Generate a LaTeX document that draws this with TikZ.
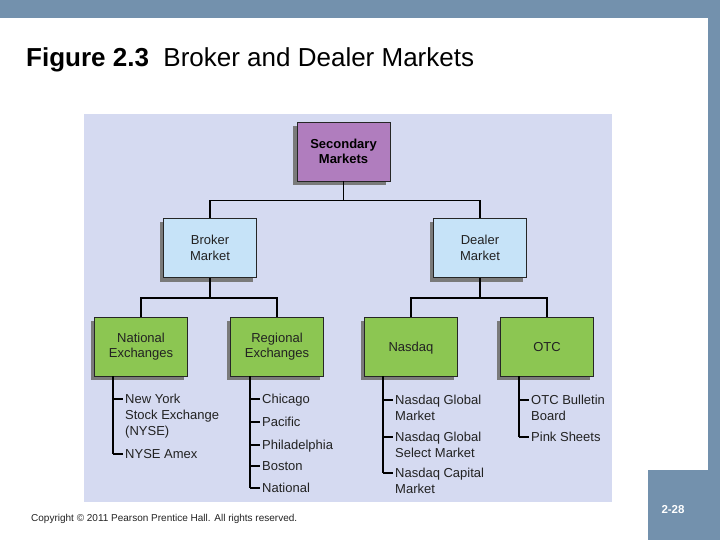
\documentclass[tikz,border=0pt]{standalone}
\usepackage{fontspec}
\setmainfont{Liberation Sans}
\usetikzlibrary{calc,shadows}
\definecolor{bar}{HTML}{7391AD}
\definecolor{panel}{HTML}{D5DAF1}
\definecolor{purp}{HTML}{B07DBE}
\definecolor{lblue}{HTML}{C6E3F8}
\definecolor{gbox}{HTML}{8CC652}
\definecolor{shad}{HTML}{7A7A7A}
\definecolor{txt}{HTML}{222222}
\begin{document}
\begin{tikzpicture}[x=1pt,y=-1pt,
  box/.style={draw=black!85, line width=0.9pt, minimum width=93pt, minimum height=59pt,
    align=center, inner sep=2pt, font=\fontsize{13}{15.5}\selectfont, text=txt,
    drop shadow={shadow xshift=-4pt, shadow yshift=-4pt, fill=shad, opacity=1}},
  onebox/.style={box, text height=9.4pt, text depth=0pt},
  conn/.style={draw=black, line width=1.6pt},
  item/.style={anchor=base west, align=left, inner sep=0pt, text=txt,
    font=\fontsize{13}{16}\selectfont}]
\useasboundingbox (0,0) rectangle (720,540);
% frame
\fill[bar] (0,0) rectangle (720,18);
\fill[bar] (708,0) rectangle (720,540);
\fill[bar] (648,470) rectangle (720,540);
\node[anchor=center, text=white, font=\fontsize{11.5}{13}\selectfont\bfseries] (pg) at (673,510) {2-28};
% title
\node[anchor=base west, inner sep=0pt, font=\fontsize{26}{30}\selectfont] (title) at (26,67)
  {\textbf{Figure 2.3}\ \ Broker and Dealer Markets};
\node[anchor=base west, inner sep=0pt, font=\fontsize{10}{12}\selectfont, text=txt] (copy) at (31,521)
  {Copyright © 2011 Pearson Prentice Hall. All rights reserved.};
% panel
\fill[panel] (84,114) rectangle (612,502);
% boxes
\node[box, fill=purp, font=\fontsize{13}{15.5}\selectfont\bfseries, text=black] (sec) at (343.5,151.5) {Secondary\\Markets};
\node[box, fill=lblue] (bro) at (210,248) {Broker\\Market};
\node[box, fill=lblue] (dea) at (480,248) {Dealer\\Market};
\node[box, fill=gbox] (nat) at (141,346.5) {National\\Exchanges};
\node[box, fill=gbox] (reg) at (277,346.5) {Regional\\Exchanges};
\node[onebox, fill=gbox] (nas) at (411,346.5) {Nasdaq};
\node[onebox, fill=gbox] (otc) at (547,346.5) {OTC};
% tree connectors
\draw[conn] (sec.south) -- ++(0,19) -| (bro.north);
\draw[conn] (sec.south) -- ++(0,19) -| (dea.north);
\draw[conn] (bro.south) -- ++(0,20) -| (nat.north);
\draw[conn] (bro.south) -- ++(0,20) -| (reg.north);
\draw[conn] (dea.south) -- ++(0,20) -| (nas.north);
\draw[conn] (dea.south) -- ++(0,20) -| (otc.north);
% lists: node placed at the baseline of its last line
\node[item] (ny) at (125,435.5) {New York\\Stock Exchange\\(NYSE)};
\node[item] (amex) at (125,458.5) {NYSE Amex};
\node[item] (chi) at (262,403.5) {Chicago};
\node[item] (pac) at (262,426.5) {Pacific};
\node[item] (phi) at (262,449.5) {Philadelphia};
\node[item] (bos) at (262,470.5) {Boston};
\node[item] (natl) at (262,492.5) {National};
\node[item] (ngm) at (395,420.5) {Nasdaq Global\\Market};
\node[item] (ngs) at (395,457.5) {Nasdaq Global\\Select Market};
\node[item] (ncm) at (395,493.5) {Nasdaq Capital\\Market};
\node[item] (bb) at (531,420.5) {OTC Bulletin\\Board};
\node[item] (pink) at (531,441.5) {Pink Sheets};
% ticks at the first line of each item
\foreach \n/\d in {ny/36.5,amex/4.5,chi/4.5,pac/4.5,phi/4.5,bos/4.5,natl/4.5,ngm/20.5,ngs/20.5,ncm/20.5,bb/20.5,pink/4.5}{
  \coordinate (\n-t) at ($(\n.base west)+(-12,-\d)$);
  \coordinate (\n-e) at ($(\n.base west)+(-2,-\d)$);
  \draw[conn] (\n-t) -- (\n-e);
}
\draw[conn] (nat.south -| ny-t) -- (amex-t);
\draw[conn] (reg.south -| chi-t) -- (natl-t);
\draw[conn] (nas.south -| ngm-t) -- (ncm-t);
\draw[conn] (otc.south -| bb-t) -- (pink-t);
\end{tikzpicture}
\end{document}
